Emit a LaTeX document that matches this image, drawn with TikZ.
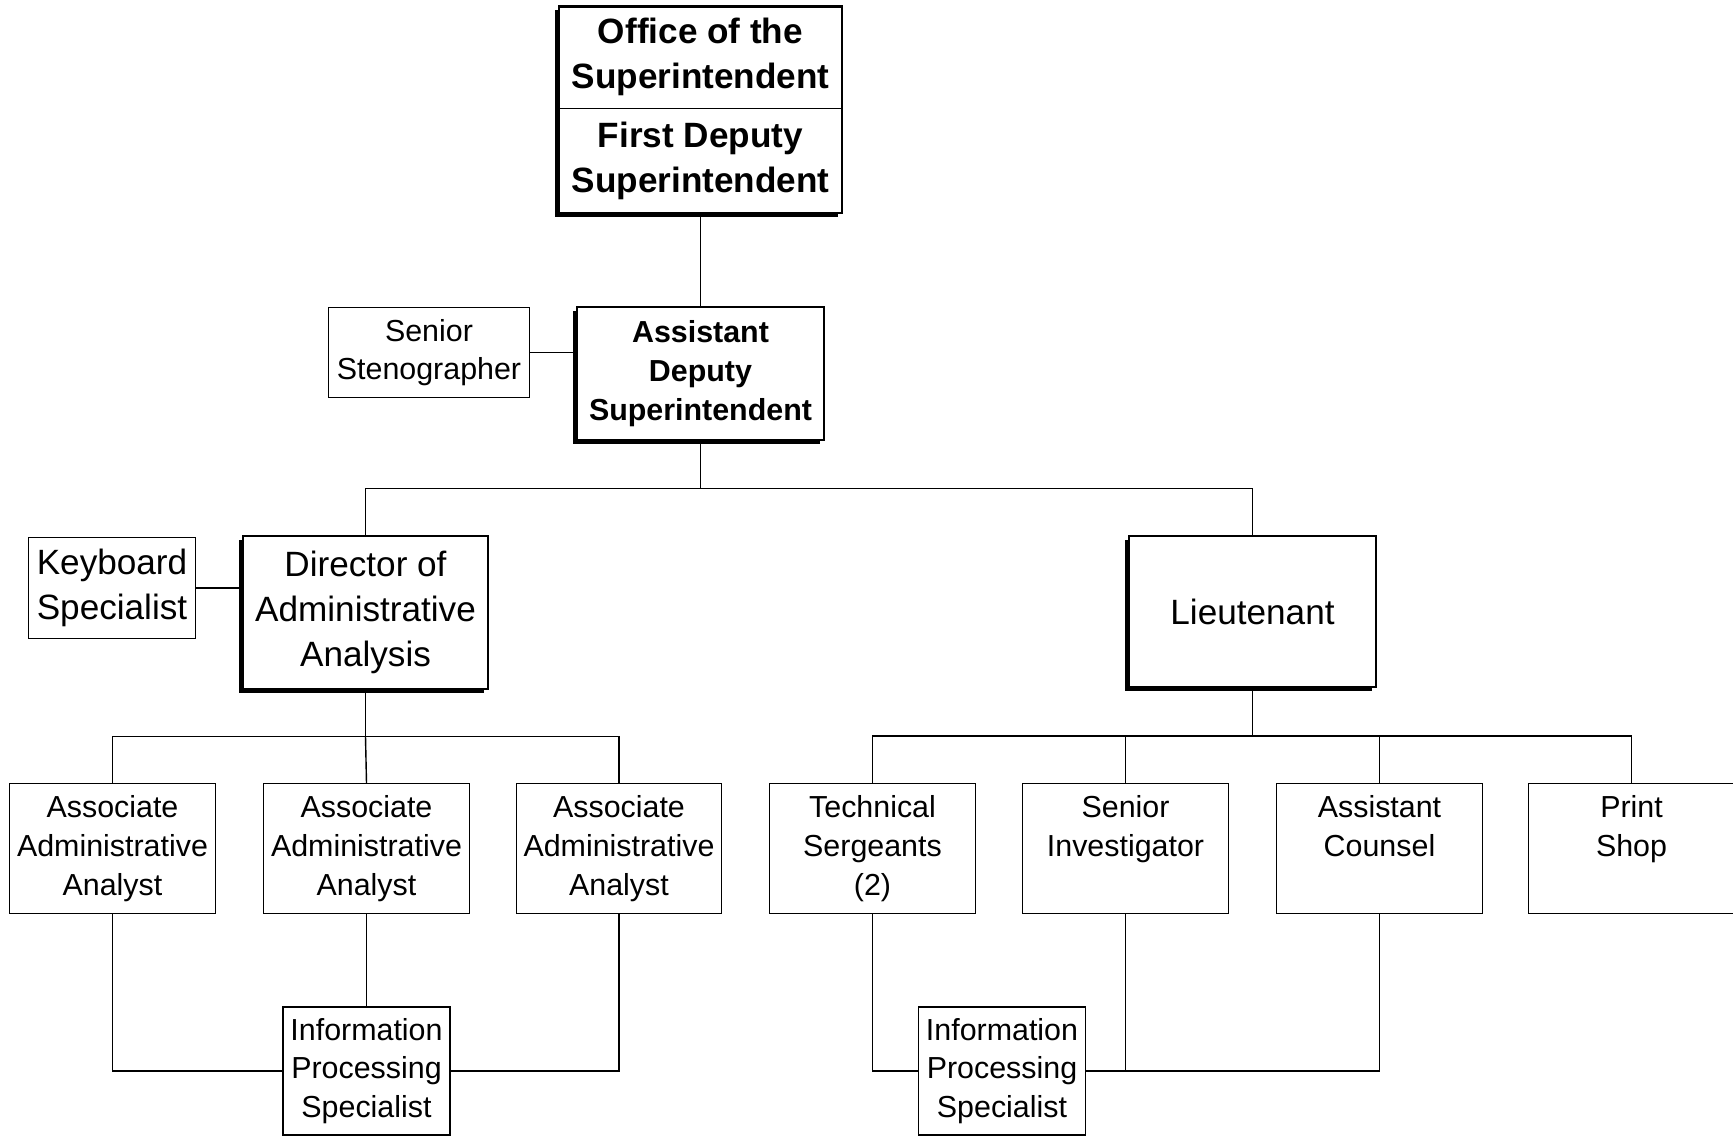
\documentclass[tikz,border=0pt]{standalone}
\usepackage{fontspec}
\setmainfont{Liberation Sans}
\usetikzlibrary{positioning,shadows,calc,fit,backgrounds}

\begin{document}
\begin{tikzpicture}[
    every node/.style={align=center},
    bigtext/.style={font=\fontsize{20}{25.6}\selectfont},
    smalltext/.style={font=\fontsize{17.3}{22}\selectfont},
    bigbold/.style={font=\bfseries\fontsize{20}{25.6}\selectfont},
    smallbold/.style={font=\bfseries\fontsize{17.3}{22}\selectfont},
    unitbox/.style={
        draw=black,
        line width=0.8pt,
        fill=white,
        inner sep=2pt,
        smalltext,
    },
    headbox/.style={
        draw=black,
        line width=1.4pt,
        fill=white,
        inner sep=2pt,
        drop shadow={shadow xshift=-2.4pt,shadow yshift=-2.4pt,opacity=1,fill=black},
    },
    link/.style={line width=0.8pt},
]
\useasboundingbox (0,0) rectangle (34.66,22.72);

% === Top office ===
\node[bigbold,inner sep=2pt,minimum width=5.64cm,minimum height=2.03cm,anchor=south] (office) at (14.01,20.55) {
    Office of the\\Superintendent
};
\node[bigbold,inner sep=2pt,minimum width=5.64cm,minimum height=2.08cm,anchor=north] (firstdep) at (14.01,20.55) {
    First Deputy\\Superintendent
};
\begin{scope}[on background layer]
    \node[headbox,inner sep=0pt,fit=(office)(firstdep)] (topframe) {};
\end{scope}
\draw[link] (office.south west) -- (office.south east);

% === Assistant deputy + steno ===
\node[headbox,smallbold,minimum width=4.95cm,minimum height=2.65cm] (asstdep) at (14.01,15.25) {
    Assistant\\Deputy\\Superintendent
};
\node[unitbox,minimum width=4.02cm,minimum height=1.81cm] (steno) at (8.58,15.67) {Senior\\Stenographer};

% === Second level ===
\node[headbox,bigtext,minimum width=4.89cm,minimum height=3.05cm] (director) at (7.31,10.47) {
    Director of\\Administrative\\Analysis
};
\node[unitbox,bigtext,minimum width=3.34cm,minimum height=2.03cm] (keyboard) at (2.24,10.96) {Keyboard\\Specialist};
\node[headbox,bigtext,minimum width=4.93cm,minimum height=3.03cm] (lieut) at (25.05,10.49) {Lieutenant};

% === Left: analysts ===
\node[unitbox,minimum width=4.11cm,minimum height=2.59cm] (aaa1) at (2.25,5.75) {Associate\\Administrative\\Analyst};
\node[unitbox,minimum width=4.11cm,minimum height=2.59cm] (aaa2) at (7.33,5.75) {Associate\\Administrative\\Analyst};
\node[unitbox,minimum width=4.11cm,minimum height=2.59cm] (aaa3) at (12.38,5.75) {Associate\\Administrative\\Analyst};

% === Right: lieutenant staff ===
\node[unitbox,minimum width=4.11cm,minimum height=2.59cm] (techsgt) at (17.45,5.75) {Technical\\Sergeants\\(2)};
\node[unitbox,minimum width=4.11cm,minimum height=2.59cm] (seninv) at (22.51,5.75) {Senior\\Investigator\\\phantom{(2)}};
\node[unitbox,minimum width=4.11cm,minimum height=2.59cm] (counsel) at (27.59,5.75) {Assistant\\Counsel\\\phantom{(2)}};
\node[unitbox,minimum width=4.11cm,minimum height=2.59cm] (print) at (32.63,5.75) {Print\\Shop\\\phantom{(2)}};

% === Bottom: info processing ===
\node[unitbox,minimum width=3.34cm,minimum height=2.56cm] (ipsleft) at (7.33,1.30) {Information\\Processing\\Specialist};
\node[unitbox,minimum width=3.34cm,minimum height=2.56cm] (ipsright) at (20.04,1.30) {Information\\Processing\\Specialist};

% === Connectors: top ===
\draw[link] (topframe.south) -- (asstdep.north);
\draw[link] (steno.east) -- (steno.east -| asstdep.west);
\coordinate (topbus) at ($(asstdep.south)+(0,-0.95)$);
\draw[link] (asstdep.south) -- (topbus);
\draw[link] (director.north) |- (topbus) -| (lieut.north);
\draw[link] (keyboard.east) -- (keyboard.east -| director.west);

% === Connectors: left branch ===
\coordinate (leftbus) at ($(director.south)+(0,-0.93)$);
\draw[link] (director.south) -- (leftbus);
\draw[link] (aaa1.north) |- (leftbus) -| (aaa3.north);
\draw[link] (leftbus) -- (aaa2.north);
\draw[link] (aaa1.south) |- (ipsleft.west);
\draw[link] (aaa3.south) |- (ipsleft.east);
\draw[link] (aaa2.south) -- (ipsleft.north);

% === Connectors: right branch ===
\coordinate (rightbus) at ($(lieut.south)+(0,-0.95)$);
\draw[link] (lieut.south) -- (rightbus);
\draw[link] (techsgt.north) |- (rightbus) -| (print.north);
\draw[link] (seninv.north) -- (seninv.north |- rightbus);
\draw[link] (counsel.north) -- (counsel.north |- rightbus);
\draw[link] (techsgt.south) |- (ipsright.west);
\draw[link] (counsel.south) |- (ipsright.east);
\draw[link] (seninv.south) -- (seninv.south |- ipsright.east);

\end{tikzpicture}
\end{document}
